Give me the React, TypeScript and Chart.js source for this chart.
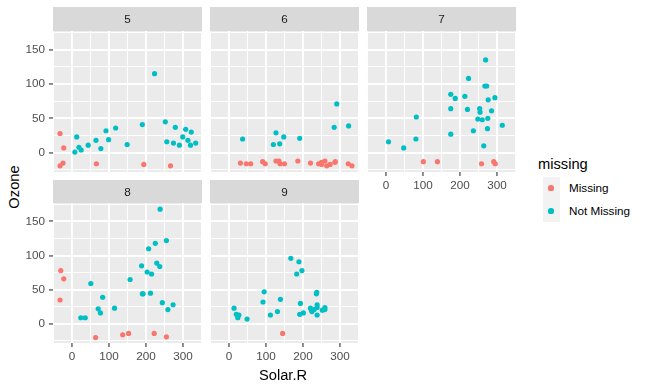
import React, { useEffect, useRef } from "react";
import { Chart, registerables } from "chart.js";
Chart.register(...registerables);

const FONT = "'Liberation Sans', Arial, Helvetica, sans-serif";

// axis ticks
const xTickValues = [-50, 0, 50, 100, 150, 200, 250, 300, 350];
const xMajorTicks = [0, 100, 200, 300];
const yTickValues = [-25, 0, 25, 50, 75, 100, 125, 150, 175];
const yMajorTicks = [0, 50, 100, 150];
const xLimits = [-51, 351];
const yLimits = [-28, 177];

const seriesNames = ["Missing", "Not Missing"];
const seriesColors = ["#F8766D", "#00BFC4"];
const xTitle = "Solar.R";
const yTitle = "Ozone";
const legendTitle = "missing";

// Month 5
const maySolarObs = [190, 118, 149, 313, 299, 99, 19, 256, 290, 274, 65, 334, 307, 78, 322, 44, 8, 320, 25, 92, 13, 252, 223, 279];
const mayOzoneObs = [41, 36, 12, 18, 23, 19, 8, 16, 11, 14, 18, 14, 34, 6, 30, 11, 1, 11, 4, 32, 23, 45, 115, 37];
const maySolarMiss = [-32, -32, 194, -22, 66, 266, -24];
const mayOzoneMiss = [-19, 28, -17, 7, -16, -19, -15];

// Month 6
const junSolarObs = [127, 291, 323, 148, 191, 284, 37, 120, 137];
const junOzoneObs = [29, 71, 39, 23, 21, 37, 20, 12, 13];
const junSolarMiss = [286, 287, 242, 186, 220, 264, 273, 259, 250, 332, 322, 150, 59, 91, 250, 135, 127, 47, 98, 31, 138];
const junOzoneMiss = [-14, -13, -16, -12, -15, -19, -17, -12, -14, -19, -16, -16, -16, -13, -17, -12, -12, -16, -16, -15, -16];

// Month 7
const julSolarObs = [269, 248, 236, 175, 314, 276, 267, 272, 175, 264, 175, 48, 260, 274, 285, 187, 220, 7, 294, 223, 81, 82, 213, 275, 253, 254];
const julOzoneObs = [135, 49, 32, 64, 40, 77, 97, 97, 85, 10, 27, 7, 48, 35, 61, 79, 63, 16, 80, 108, 20, 52, 82, 50, 64, 59];
const julSolarMiss = [101, 139, 258, 291, 295];
const julOzoneMiss = [-13, -13, -16, -13, -16];

// Month 8
const augSolarObs = [83, 24, 77, 255, 229, 207, 192, 273, 157, 71, 51, 115, 244, 190, 259, 36, 212, 238, 215, 203, 225, 237, 188];
const augOzoneObs = [39, 9, 16, 122, 89, 110, 44, 28, 65, 22, 59, 23, 31, 44, 21, 9, 45, 168, 73, 76, 118, 84, 85];
const augSolarMiss = [-30, -32, -22, 222, 137, 64, 255, 153];
const augOzoneMiss = [78, 35, 66, -14, -16, -20, -19, -14];

// Month 9
const sepSolarObs = [167, 197, 183, 189, 95, 92, 252, 220, 230, 259, 236, 259, 238, 24, 112, 237, 224, 27, 238, 201, 238, 14, 139, 49, 20, 193, 191, 131, 223];
const sepOzoneObs = [96, 78, 73, 91, 47, 32, 20, 23, 21, 24, 44, 21, 28, 9, 13, 46, 18, 13, 24, 16, 13, 23, 36, 7, 14, 30, 14, 18, 20];
const sepSolarMiss = [145];
const sepOzoneMiss = [-14];

// layout
const Y_AXIS_W = 30;
const X_AXIS_H = 24;
const PLOT_W = 149;
const colLefts = [53, 210, 367];
const rows = [
  { top: 7, stripH: 24, plotH: 141 },
  { top: 180, stripH: 23, plotH: 140 },
];

const panels = [
  { label: "5", col: 0, row: 0, showX: false, showY: true, sx: maySolarObs, oy: mayOzoneObs, msx: maySolarMiss, moy: mayOzoneMiss },
  { label: "6", col: 1, row: 0, showX: false, showY: false, sx: junSolarObs, oy: junOzoneObs, msx: junSolarMiss, moy: junOzoneMiss },
  { label: "7", col: 2, row: 0, showX: true, showY: false, sx: julSolarObs, oy: julOzoneObs, msx: julSolarMiss, moy: julOzoneMiss },
  { label: "8", col: 0, row: 1, showX: true, showY: true, sx: augSolarObs, oy: augOzoneObs, msx: augSolarMiss, moy: augOzoneMiss },
  { label: "9", col: 1, row: 1, showX: true, showY: false, sx: sepSolarObs, oy: sepOzoneObs, msx: sepSolarMiss, moy: sepOzoneMiss },
];

const stripPlugin = {
  id: "strip",
  beforeDraw(chart: any, _args: any, opts: any) {
    const { ctx, chartArea: a } = chart;
    ctx.save();
    ctx.fillStyle = "#EBEBEB";
    ctx.fillRect(a.left, a.top, a.right - a.left, a.bottom - a.top);
    ctx.fillStyle = "#D9D9D9";
    ctx.fillRect(a.left, 0, a.right - a.left, a.top);
    ctx.fillStyle = "#1A1A1A";
    ctx.font = `11.7px ${FONT}`;
    ctx.textAlign = "center";
    ctx.textBaseline = "middle";
    ctx.fillText(opts.label, (a.left + a.right) / 2, a.top / 2 + 1);
    ctx.restore();
  },
};

function Panel(p: any) {
  const ref = useRef<HTMLCanvasElement>(null);
  const r = rows[p.row];
  const w = PLOT_W + (p.showY ? Y_AXIS_W : 0);
  const h = r.stripH + r.plotH + (p.showX ? X_AXIS_H : 0);
  const left = colLefts[p.col] - (p.showY ? Y_AXIS_W : 0);

  useEffect(() => {
    if (!ref.current) return;
    const isMajorX = (v: number) => xMajorTicks.includes(v);
    const isMajorY = (v: number) => yMajorTicks.includes(v);
    const pt = { pointRadius: 2.6, pointHoverRadius: 2.6, pointBorderWidth: 0, borderWidth: 0 };
    const chart = new Chart(ref.current, {
      type: "scatter",
      data: {
        datasets: [
          {
            label: seriesNames[1],
            data: p.sx.map((x: number, i: number) => ({ x, y: p.oy[i] })),
            backgroundColor: seriesColors[1],
            borderColor: seriesColors[1],
            ...pt,
          },
          {
            label: seriesNames[0],
            data: p.msx.map((x: number, i: number) => ({ x, y: p.moy[i] })),
            backgroundColor: seriesColors[0],
            borderColor: seriesColors[0],
            ...pt,
          },
        ],
      },
      options: {
        responsive: false,
        animation: false,
        events: [],
        layout: { padding: { top: r.stripH, left: 0, right: 0, bottom: 0 }, autoPadding: false },
        plugins: {
          legend: { display: false },
          tooltip: { enabled: false },
          strip: { label: p.label },
        } as any,
        scales: {
          x: {
            type: "linear",
            position: "bottom",
            min: xLimits[0],
            max: xLimits[1],
            border: { display: false },
            afterBuildTicks: (s: any) => {
              s.ticks = xTickValues.map((v) => ({ value: v }));
            },
            afterFit: (s: any) => {
              s.height = p.showX ? X_AXIS_H : 0;
              s.paddingLeft = 0;
              s.paddingRight = 0;
            },
            grid: {
              color: "#FFFFFF",
              lineWidth: (c: any) => (isMajorX(c.tick?.value) ? 1.9 : 0.95),
              drawTicks: p.showX,
              tickLength: 4,
              tickWidth: 1.1,
              tickColor: (c: any) => (isMajorX(c.tick?.value) ? "#333333" : "rgba(0,0,0,0)"),
            },
            ticks: {
              display: p.showX,
              padding: 3,
              color: "#4D4D4D",
              font: { family: FONT, size: 11.7 },
              maxRotation: 0,
              autoSkip: false,
              callback: (v: any) => (isMajorX(v) ? String(v) : ""),
            },
          },
          y: {
            type: "linear",
            position: "left",
            min: yLimits[0],
            max: yLimits[1],
            border: { display: false },
            afterBuildTicks: (s: any) => {
              s.ticks = yTickValues.map((v) => ({ value: v }));
            },
            afterFit: (s: any) => {
              s.width = p.showY ? Y_AXIS_W : 0;
              s.paddingTop = 0;
              s.paddingBottom = 0;
            },
            grid: {
              color: "#FFFFFF",
              lineWidth: (c: any) => (isMajorY(c.tick?.value) ? 1.9 : 0.95),
              drawTicks: p.showY,
              tickLength: 4,
              tickWidth: 1.1,
              tickColor: (c: any) => (isMajorY(c.tick?.value) ? "#333333" : "rgba(0,0,0,0)"),
            },
            ticks: {
              display: p.showY,
              padding: 4,
              color: "#4D4D4D",
              font: { family: FONT, size: 11.7 },
              autoSkip: false,
              callback: (v: any) => (isMajorY(v) ? String(v) : ""),
            },
          },
        },
      },
      plugins: [stripPlugin as any],
    });
    return () => chart.destroy();
  }, []);

  return (
    <canvas
      ref={ref}
      width={w}
      height={h}
      style={{ position: "absolute", left, top: r.top, width: w, height: h }}
    />
  );
}

export default function App() {
  const txt: React.CSSProperties = { position: "absolute", fontFamily: FONT, whiteSpace: "nowrap", lineHeight: 1 };
  return (
    <div style={{ position: "fixed", left: 0, top: 0, width: 648, height: 390, background: "#FFFFFF", overflow: "hidden" }}>
      {panels.map((p) => (
        <Panel key={p.label} {...p} />
      ))}
      {/* axis titles */}
      <div style={{ ...txt, left: 283, top: 375, fontSize: 14.7, color: "#000", transform: "translate(-50%, -50%)" }}>{xTitle}</div>
      <div style={{ ...txt, left: 14, top: 187, fontSize: 14.7, color: "#000", transform: "translate(-50%, -50%) rotate(-90deg)" }}>{yTitle}</div>
      {/* legend */}
      <div style={{ ...txt, left: 538, top: 164, fontSize: 14.7, color: "#000", transform: "translateY(-50%)" }}>{legendTitle}</div>
      {seriesNames.map((name, i) => (
        <React.Fragment key={name}>
          <div style={{ position: "absolute", left: 542.5, top: 176.7 + i * 22.6, width: 17.5, height: 22.6, background: "#F2F2F2" }} />
          <div style={{ position: "absolute", left: 551 - 2.6, top: 188 + i * 23 - 2.6, width: 5.2, height: 5.2, borderRadius: "50%", background: seriesColors[i] }} />
          <div style={{ ...txt, left: 569, top: 188 + i * 23, fontSize: 11.7, color: "#000", transform: "translateY(-50%)" }}>{name}</div>
        </React.Fragment>
      ))}
    </div>
  );
}
